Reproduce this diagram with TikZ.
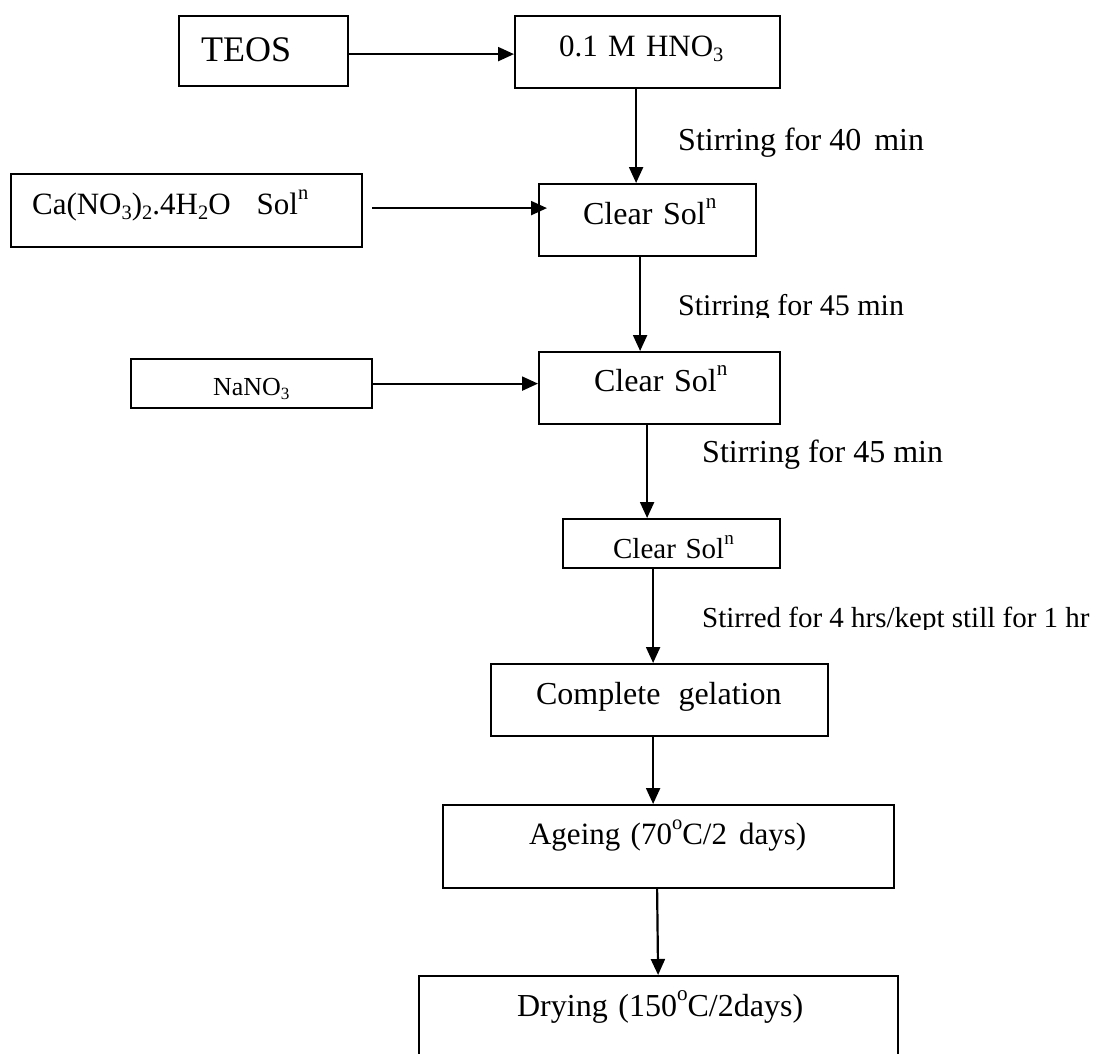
\documentclass[tikz,border=0pt]{standalone}
\usepackage{fontspec}
\usepackage{graphicx}
\setmainfont{Liberation Serif}
\usetikzlibrary{arrows.meta}
\newcommand{\fsz}[1]{\fontsize{#1}{#1}\selectfont}
\newcommand{\sps}[1]{\raisebox{0.48em}{\scalebox{0.66}{#1}}}
\newcommand{\sbs}[1]{\raisebox{-0.18em}{\scalebox{0.66}{#1}}}
\tikzset{
  box/.style={draw, line width=2.2pt, inner sep=0pt, anchor=north west, align=left},
  arr/.style={line width=2.2pt, -{Triangle[length=16pt,width=14pt]}},
  lbl/.style={anchor=base west, inner sep=0pt}
}
\begin{document}
\begin{tikzpicture}[x=1pt,y=-1pt]
\useasboundingbox (0,0) rectangle (1097,1053);
\clip (0,0) rectangle (1097,1053);
% boxes
\node[box, font=\fsz{36}, text width=169pt, text height=45pt, text depth=25pt] (teos) at (178,15) {\hspace*{22pt}TEOS};
\node[box, font=\fsz{31}, text width=265pt, text height=40pt, text depth=32pt] (hno) at (514,15) {\hspace*{44pt}0.1 M HNO\sbs{3}};
\node[box, font=\fsz{31}, text width=351pt, text height=40pt, text depth=33pt] (ca) at (10,173) {\hspace*{21pt}Ca(NO\sbs{3})\sbs{2}.4H\sbs{2}O\hspace{26pt}Sol\sps{n}};
\node[box, font=\fsz{32}, text width=217pt, text height=40pt, text depth=32pt] (cs1) at (538,183) {\hspace*{44pt}Clear Sol\sps{n}};
\node[box, font=\fsz{26}, text width=241pt, text height=36pt, text depth=13pt] (na) at (130,358) {\hspace*{82pt}NaNO\sbs{3}};
\node[box, font=\fsz{32}, text width=241pt, text height=39pt, text depth=33pt] (cs2) at (538,351) {\hspace*{55pt}Clear Sol\sps{n}};
\node[box, font=\fsz{29}, text width=217pt, text height=39pt, text depth=10pt] (cs3) at (562,518) {\hspace*{50pt}Clear Sol\sps{n}};
\node[box, font=\fsz{32}, text width=337pt, text height=40pt, text depth=32pt] (cg) at (490,663) {\hspace*{45pt}Complete\hspace{18pt}gelation};
\node[box, font=\fsz{31}, text width=451pt, text height=39pt, text depth=44pt] (ag) at (442,804) {\hspace*{86pt}Ageing (70\sps{o}C/2\hspace{12pt}days)};
\node[box, font=\fsz{32}, text width=479pt, text height=40pt, text depth=60pt] (dry) at (418,975) {\hspace*{98pt}Drying (150\sps{o}C/2days)};
% labels
\node[lbl, font=\fsz{32}] (l1) at (678,150) {Stirring for 40\hspace{13pt}min};
\begin{scope}
  \clip (600,260) rectangle (1000,317);
  \node[lbl, font=\fsz{30}] (l2) at (678,315) {Stirring for 45 min};
\end{scope}
\node[lbl, font=\fsz{32}] (l3) at (702,462) {Stirring for 45 min};
\begin{scope}
  \clip (650,580) rectangle (1097,629);
  \node[lbl, font=\fsz{29}] (l4) at (702,627) {Stirred for 4 hrs/kept still for 1 hr};
\end{scope}
% connectors
\draw[arr] ([yshift=-3pt]teos.east) -- ([yshift=-3pt]teos.east -| hno.west);
\draw[arr] ([xshift=9pt,yshift=2.5pt]ca.east) -- ([xshift=9pt,yshift=2.5pt]ca.east -| cs1.west);
\draw[arr] (na.east) -- (na.east -| cs2.west);
\draw[arr] ([xshift=-11.5pt]hno.south) -- ([xshift=-11.5pt]hno.south |- cs1.north);
\draw[arr] ([xshift=-7.5pt]cs1.south) -- ([xshift=-7.5pt]cs1.south |- cs2.north);
\draw[arr] ([xshift=-12.5pt]cs2.south) -- ([xshift=-12.5pt]cs2.south |- cs3.north);
\draw[arr] ([xshift=-18.5pt]cs3.south) -- ([xshift=-18.5pt]cs3.south |- cg.north);
\draw[arr] ([xshift=-6.5pt]cg.south) -- ([xshift=-6.5pt]cg.south |- ag.north);
\draw[arr] ([xshift=-11.5pt]ag.south) -- ([xshift=-0.5pt]dry.north);
\end{tikzpicture}
\end{document}
